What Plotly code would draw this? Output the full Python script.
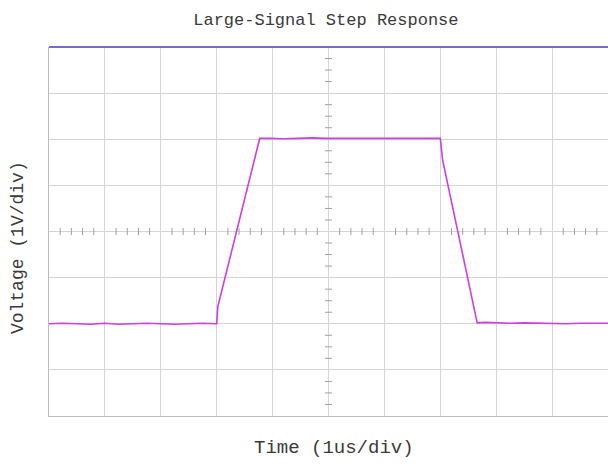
import numpy as np
import plotly.graph_objects as go

# Time in microseconds (1 us/div), voltage in volts (1 V/div)
time_us = [0.00, 0.25, 0.50, 0.75, 1.00, 1.25, 1.50, 1.75, 2.00, 2.25, 2.50, 2.75,
           2.98, 3.00, 3.02, 3.77,
           3.95, 4.20, 4.45, 4.70, 4.95, 5.20, 5.45, 5.70, 5.95, 6.20, 6.45, 6.70, 6.90,
           7.00, 7.04, 7.66,
           7.80, 8.00, 8.25, 8.50, 8.75, 9.00, 9.25, 9.50, 9.75, 10.00]
voltage_v = [-2.00, -1.99, -2.00, -2.01, -1.99, -2.01, -2.00, -1.99, -2.00, -2.01, -2.00, -1.99,
             -2.00, -2.00, -1.63, 2.02,
             2.02, 2.01, 2.02, 2.03, 2.02, 2.02, 2.03, 2.02, 2.02, 2.03, 2.02, 2.02, 2.03,
             2.02, 1.56, -1.98,
             -1.97, -1.98, -1.99, -1.98, -1.99, -1.99, -2.00, -1.99, -1.99, -1.99]

x_range = [0, 10]
y_range = [-4, 4]
line_color = "#CC3FE0"
grid_color = "#D4D4D4"
font_family = "Liberation Mono, DejaVu Sans Mono, monospace"

# decorative minor ticks on the centre cross
h_ticks = [v for v in np.round(np.arange(0, 10.001, 0.2), 3) if abs(v - round(v)) > 1e-6]
v_ticks = [v for v in np.round(np.arange(-4, 4.001, 0.25), 3) if abs(v - round(v)) > 1e-6]

fig = go.Figure()
fig.add_trace(go.Scatter(x=h_ticks, y=[0] * len(h_ticks), mode="markers",
                         marker=dict(symbol="line-ns", size=5,
                                     line=dict(color="#A0A0A0", width=1)),
                         hoverinfo="skip", showlegend=False))
fig.add_trace(go.Scatter(x=[5] * len(v_ticks), y=v_ticks, mode="markers",
                         marker=dict(symbol="line-ew", size=5,
                                     line=dict(color="#A0A0A0", width=1)),
                         hoverinfo="skip", showlegend=False))
fig.add_trace(go.Scatter(x=time_us, y=voltage_v, mode="lines",
                         line=dict(color=line_color, width=1.6),
                         showlegend=False))

fig.update_layout(
    width=608, height=464,
    margin=dict(l=49, r=0, t=47, b=48),
    paper_bgcolor="white", plot_bgcolor="white",
    showlegend=False,
    title=dict(text="Large-Signal Step Response", x=0.536, xanchor="center",
               y=1 - 19 / 464, yanchor="middle",
               font=dict(family=font_family, size=17, color="#3A3A3A")),
    xaxis=dict(range=x_range, dtick=1, tick0=0, showgrid=True, gridcolor=grid_color,
               gridwidth=1, zeroline=False, showticklabels=False, ticks="",
               showline=True, linecolor="#BDBDBD", linewidth=1, fixedrange=True),
    yaxis=dict(range=y_range, dtick=1, tick0=0, showgrid=True, gridcolor=grid_color,
               gridwidth=1, zeroline=False, showticklabels=False, ticks="",
               showline=True, linecolor="#BDBDBD", linewidth=1, fixedrange=True),
    shapes=[dict(type="line", xref="paper", yref="paper", x0=0, x1=1, y0=1, y1=1,
                 line=dict(color="#7070C4", width=2))],
    annotations=[
        dict(text="Time (1us/div)", xref="paper", yref="paper", x=0.51, y=-32 / 369,
             xanchor="center", yanchor="middle", showarrow=False,
             font=dict(family=font_family, size=19, color="#3A3A3A")),
        dict(text="Voltage (1V/div)", xref="paper", yref="paper", x=-31 / 559, y=0.455,
             xanchor="center", yanchor="middle", showarrow=False, textangle=-90,
             font=dict(family=font_family, size=18, color="#3A3A3A")),
    ],
)

fig.write_html("out.html", config={"displayModeBar": False},
               post_script="document.body.style.margin='0';")
